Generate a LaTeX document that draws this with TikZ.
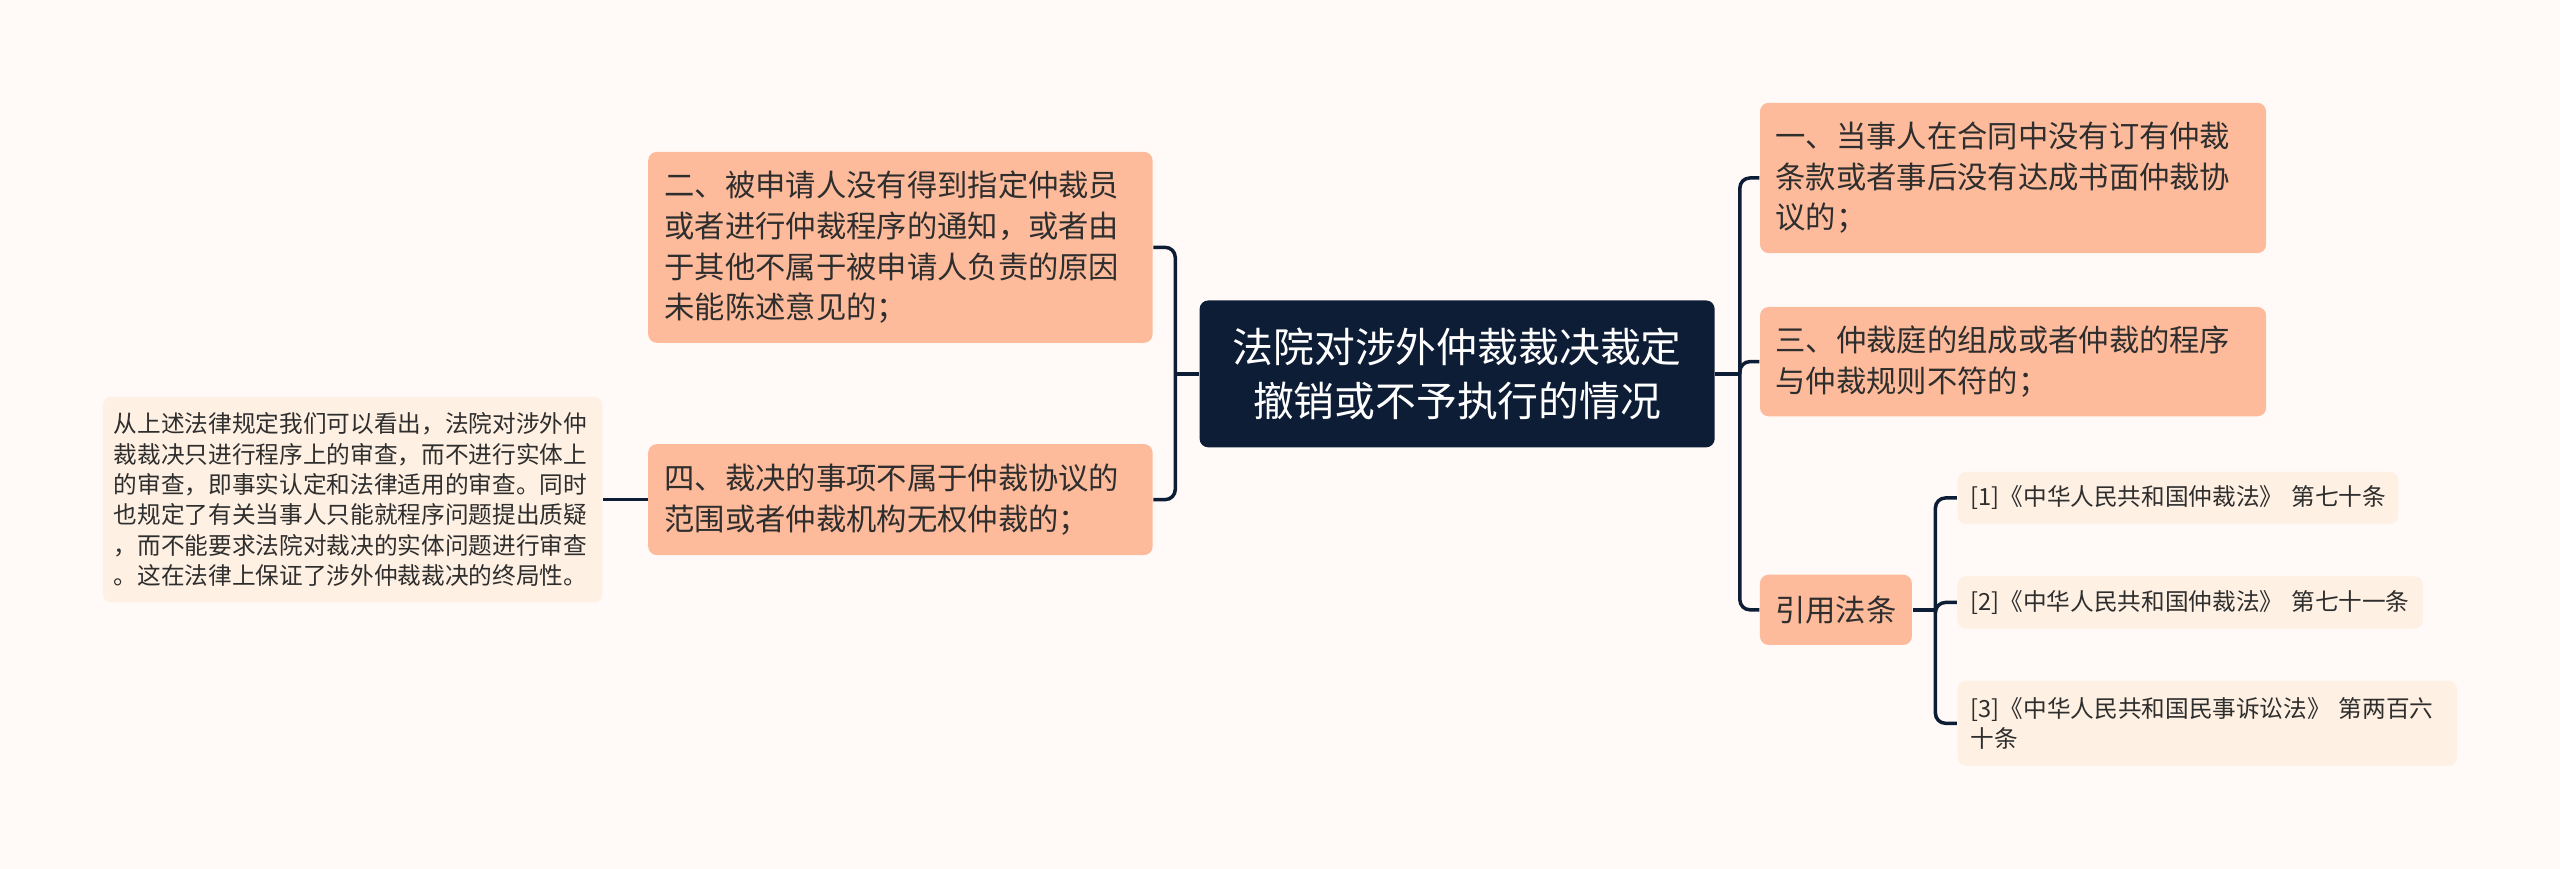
\documentclass[tikz,border=0pt]{standalone}
\usepackage{fontspec}
\newfontfamily\cjk{Noto Sans CJK SC}
\definecolor{bg}{HTML}{FFFAF8}
\definecolor{salmon}{HTML}{FDBB9B}
\definecolor{cream}{HTML}{FEF0E2}
\definecolor{navy}{HTML}{0E1D36}
\definecolor{txt}{HTML}{2E2E2E}
\begin{document}
\begin{tikzpicture}[x=0.49pt, y=-0.49pt,
  base/.style={rounded corners=2.6pt, inner ysep=0pt, align=left, text=txt},
  mainbox/.style={base, fill=salmon, font=\cjk\fontsize{9.1}{12.2}\selectfont},
  notebox/.style={base, fill=cream, font=\cjk\fontsize{7.1}{9.1}\selectfont},
  rootbox/.style={base, fill=navy, text=white, align=center, inner xsep=0pt,
                  font=\cjk\fontsize{12.25}{16.5}\selectfont},
  conn/.style={draw=navy, line width=1.05pt},
  branch/.style={conn, rounded corners=3pt}]
\fill[bg] (0,0) rectangle (1568,532);
\useasboundingbox (0,0) rectangle (1568,532);

% root
\node[rootbox, minimum width=154.6pt, minimum height=44.1pt] (c) at (892.5,229)
  {法院对涉外仲裁裁决裁定\\撤销或不予执行的情况};

% left side
\node[mainbox, minimum width=151.4pt, minimum height=57.3pt, inner xsep=4.9pt, text width=141.6pt] (b2) at (551.5,151.5)
  {二、被申请人没有得到指定仲裁员\\或者进行仲裁程序的通知，或者由\\于其他不属于被申请人负责的原因\\未能陈述意见的；};
\node[mainbox, minimum width=151.4pt, minimum height=33.3pt, inner xsep=4.9pt, text width=141.6pt] (b4) at (551.5,306)
  {四、裁决的事项不属于仲裁协议的\\范围或者仲裁机构无权仲裁的；};
\node[notebox, minimum width=149.9pt, minimum height=61.7pt, inner xsep=3.3pt, text width=143.3pt] (fl) at (216,306)
  {从上述法律规定我们可以看出，法院对涉外仲\\裁裁决只进行程序上的审查，而不进行实体上\\的审查，即事实认定和法律适用的审查。同时\\也规定了有关当事人只能就程序问题提出质疑\\，而不能要求法院对裁决的实体问题进行审查\\。这在法律上保证了涉外仲裁裁决的终局性。};

% right side
\node[mainbox, minimum width=151.9pt, minimum height=45.1pt, inner xsep=4.65pt, text width=142.6pt] (b1) at (1233,109)
  {一、当事人在合同中没有订有仲裁\\条款或者事后没有达成书面仲裁协\\议的；};
\node[mainbox, minimum width=151.9pt, minimum height=32.8pt, inner xsep=4.65pt, text width=142.6pt] (b3) at (1233,221.5)
  {三、仲裁庭的组成或者仲裁的程序\\与仲裁规则不符的；};
\node[mainbox, align=center, minimum width=45.6pt, minimum height=21.1pt, inner xsep=0pt] (ref) at (1124.5,373.5)
  {引用法条};

% citations
\node[notebox, minimum width=132.3pt, minimum height=15.7pt, inner xsep=3.9pt, text width=124.5pt] (r1) at (1334,305)
  {\mbox{[1]《中华人民共和国仲裁法》 第七十条}};
\node[notebox, minimum width=139.7pt, minimum height=15.7pt, inner xsep=3.9pt, text width=131.9pt] (r2) at (1341.5,369)
  {\mbox{[2]《中华人民共和国仲裁法》 第七十一条}};
\node[notebox, minimum width=149.9pt, minimum height=25.5pt, inner xsep=3.9pt, text width=142.1pt] (r3) at (1352,443)
  {\mbox{[3]《中华人民共和国民事诉讼法》 第两百六}\\十条};

% connectors left
\draw[conn] (c.west) -- ++(-14.5,0) coordinate (lt);
\draw[branch] (lt) |- (b2.east);
\draw[branch] (lt) |- (b4.east);
\draw[conn] (b4.west) -- (fl.east);

% connectors right
\draw[conn] (c.east) -- ++(15,0) coordinate (rt);
\draw[branch] (rt) |- (b1.west);
\draw[branch] (rt) |- (b3.west);
\draw[branch] (rt) |- (ref.west);

% citations connectors
\draw[conn] (ref.east) -- ++(14,0) coordinate (ct);
\draw[branch] (ct) |- (r1.west);
\draw[branch] (ct) |- (r2.west);
\draw[branch] (ct) |- (r3.west);
\end{tikzpicture}
\end{document}
